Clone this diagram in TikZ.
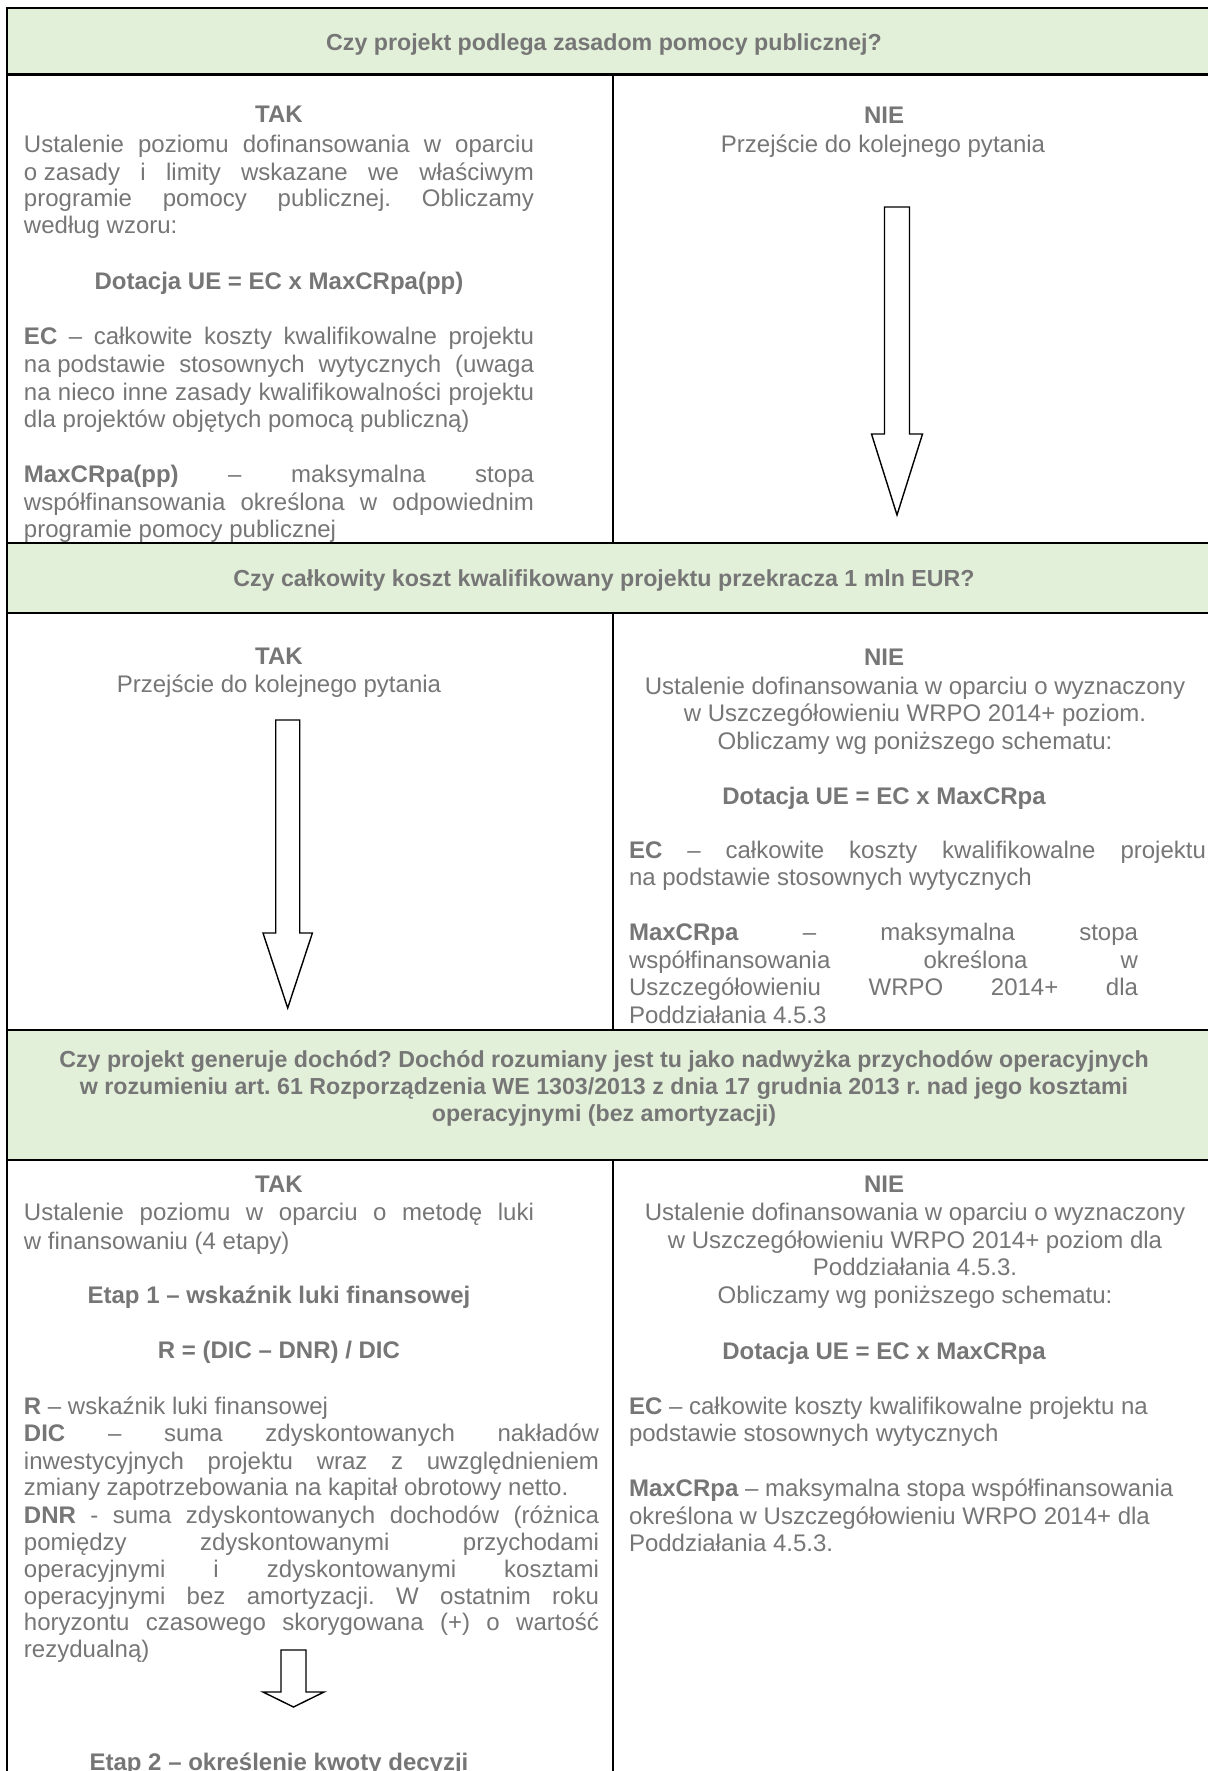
\documentclass[tikz,border=0pt]{standalone}
\usepackage{fontspec}
\setmainfont{Liberation Sans}
\frenchspacing
\definecolor{txtgray}{HTML}{767676}
\definecolor{bandgreen}{HTML}{E2EFD9}
\newcommand{\titlefont}{\fontsize{11.6}{13.5}\selectfont\bfseries}
\newcommand{\txJ}[5]{\node[anchor=mid west] (#1) at (#2,#3) {\makebox[\dimexpr #4pt/2\relax][s]{#5}};}
\newcommand{\txL}[4]{\node[anchor=mid west] (#1) at (#2,#3) {#4};}
\newcommand{\txC}[4]{\node[anchor=mid] (#1) at (#2,#3) {#4};}
\newcommand{\txB}[4]{\node[anchor=mid] (#1) at (#2,#3) {\bfseries #4};}
\newcommand{\txT}[4]{\node[anchor=mid,font=\titlefont] (#1) at (#2,#3) {#4};}
\newcommand{\blockarrow}[6]{\draw[barrow] (#1-#3,#2) -- (#1+#3,#2) -- (#1+#3,#4) -- (#1+#5,#4) -- (#1,#6) -- (#1-#5,#4) -- (#1-#3,#4) -- cycle;}
\begin{document}
\begin{tikzpicture}[x=0.5pt,y=-0.5pt,
  every node/.style={inner sep=0pt,outer sep=0pt,yshift=-1.25pt,text=txtgray,font=\fontsize{12}{13.7}\selectfont},
  hline/.style={line width=1.3pt,draw=black},
  vthin/.style={line width=0.6pt,draw=black},
  vmed/.style={line width=0.8pt,draw=black},
  barrow/.style={draw=black,fill=white,line width=0.7pt,line join=miter}]
\useasboundingbox (0,0) rectangle (1207,1771);
\fill[white] (0,0) rectangle (1207,1771);
% green bands
\fill[bandgreen] (7,8) rectangle (1215,74.5);
\fill[bandgreen] (7,543) rectangle (1215,613);
\fill[bandgreen] (7,1030) rectangle (1215,1160);
% vertical lines
\draw[vthin] (7,8) -- (7,1160);
\draw[vmed] (7,1160) -- (7,1790);
\draw[vthin] (613,74.5) -- (613,543);
\draw[vthin] (613,613) -- (613,1030);
\draw[vmed] (613,1160) -- (613,1790);
% horizontal lines
\foreach \yy in {8,74.5,543,613,1030,1160} \draw[hline] (6,\yy) -- (1215,\yy);

% titles
\txT{t1}{604}{43}{Czy projekt podlega zasadom pomocy publicznej?}
\txT{t2}{604}{579}{Czy całkowity koszt kwalifikowany projektu przekracza 1 mln EUR?}
\txT{t3a}{604}{1059.5}{Czy projekt generuje dochód? Dochód rozumiany jest tu jako nadwyżka przychodów operacyjnych}
\txT{t3b}{604}{1086.5}{w rozumieniu art. 61 Rozporządzenia WE 1303/2013 z dnia 17 grudnia 2013 r. nad jego kosztami}
\txT{t3c}{604}{1113.5}{operacyjnymi (bez amortyzacji)}

% row 1 left
\txB{a0}{279}{115}{TAK}
\txJ{a1}{24}{145}{510}{Ustalenie poziomu dofinansowania w oparciu}
\txJ{a2}{24}{173}{510}{\mbox{o zasady} i limity wskazane we właściwym}
\txJ{a3}{24}{199}{510}{programie pomocy publicznej. Obliczamy}
\txL{a4}{24}{226}{według wzoru:}
\txB{a5}{279}{282}{Dotacja UE = EC x MaxCRpa(pp)}
\txJ{a6}{24}{337}{510}{\textbf{EC} – całkowite koszty kwalifikowalne projektu}
\txJ{a7}{24}{365}{510}{\mbox{na podstawie} stosownych wytycznych (uwaga}
\txJ{a8}{24}{393}{510}{na nieco inne zasady kwalifikowalności projektu}
\txL{a9}{24}{420}{dla projektów objętych pomocą publiczną)}
\txJ{a10}{24}{475}{510}{\textbf{MaxCRpa(pp)} – maksymalna stopa}
\txJ{a11}{24}{503}{510}{współfinansowania określona w odpowiednim}
\txL{a12}{24}{530}{programie pomocy publicznej}

% row 1 right
\txB{b0}{884}{116}{NIE}
\txC{b1}{883}{145}{Przejście do kolejnego pytania}
\blockarrow{897}{207}{12.5}{434}{25.5}{515}

% row 2 left
\txB{c0}{279}{657}{TAK}
\txC{c1}{279}{685}{Przejście do kolejnego pytania}
\blockarrow{287.7}{720}{12}{933}{24.7}{1008}

% row 2 right
\txB{d0}{884}{658}{NIE}
\txC{d1}{915}{687}{Ustalenie dofinansowania w oparciu o wyznaczony}
\txC{d2}{915}{714}{w Uszczegółowieniu WRPO 2014+ poziom.}
\txC{d3}{915}{742}{Obliczamy wg poniższego schematu:}
\txB{d4}{884}{797}{Dotacja UE = EC x MaxCRpa}
\txJ{d5}{629}{851}{577}{\textbf{EC} – całkowite koszty kwalifikowalne projektu}
\txL{d6}{629}{878}{na podstawie stosownych wytycznych}
\txJ{d7}{629}{933}{509}{\textbf{MaxCRpa} – maksymalna stopa}
\txJ{d8}{629}{961}{509}{współfinansowania określona w}
\txJ{d9}{629}{988}{509}{Uszczegółowieniu WRPO 2014+ dla}
\txL{d10}{629}{1016}{Poddziałania 4.5.3}

% row 3 left
\txB{e0}{279}{1185}{TAK}
\txJ{e1}{24}{1213}{510}{Ustalenie poziomu w oparciu o metodę luki}
\txL{e2}{24}{1242}{w finansowaniu (4 etapy)}
\txB{e3}{279}{1296}{Etap 1 – wskaźnik luki finansowej}
\txB{e4}{279}{1351}{R = (DIC – DNR) / DIC}
\txL{e5}{24}{1407}{\textbf{R} – wskaźnik luki finansowej}
\txJ{e6}{24}{1434}{575}{\textbf{DIC} – suma zdyskontowanych nakładów}
\txJ{e7}{24}{1462}{575}{inwestycyjnych projektu wraz z uwzględnieniem}
\txL{e8}{24}{1488}{zmiany zapotrzebowania na kapitał obrotowy netto.}
\txJ{e9}{24}{1516}{575}{\textbf{DNR} - suma zdyskontowanych dochodów (różnica}
\txJ{e10}{24}{1543}{575}{pomiędzy zdyskontowanymi przychodami}
\txJ{e11}{24}{1570}{575}{operacyjnymi i zdyskontowanymi kosztami}
\txJ{e12}{24}{1597}{575}{operacyjnymi bez amortyzacji. W ostatnim roku}
\txJ{e13}{24}{1623}{575}{horyzontu czasowego skorygowana (+) o wartość}
\txL{e14}{24}{1650}{rezydualną)}
\blockarrow{293.5}{1650}{12.5}{1692}{30.5}{1707}
\txB{e15}{279}{1763}{Etap 2 – określenie kwoty decyzji}

% row 3 right
\txB{f0}{884}{1185}{NIE}
\txC{f1}{915}{1213}{Ustalenie dofinansowania w oparciu o wyznaczony}
\txC{f2}{915}{1241}{w Uszczegółowieniu WRPO 2014+ poziom dla}
\txC{f3}{915}{1268}{Poddziałania 4.5.3.}
\txC{f4}{915}{1296}{Obliczamy wg poniższego schematu:}
\txB{f5}{884}{1352}{Dotacja UE = EC x MaxCRpa}
\txL{f6}{629}{1407}{\textbf{EC} – całkowite koszty kwalifikowalne projektu na}
\txL{f7}{629}{1434}{podstawie stosownych wytycznych}
\txL{f8}{629}{1489}{\textbf{MaxCRpa} – maksymalna stopa współfinansowania}
\txL{f9}{629}{1517}{określona w Uszczegółowieniu WRPO 2014+ dla}
\txL{f10}{629}{1544}{Poddziałania 4.5.3.}
\end{tikzpicture}
\end{document}
